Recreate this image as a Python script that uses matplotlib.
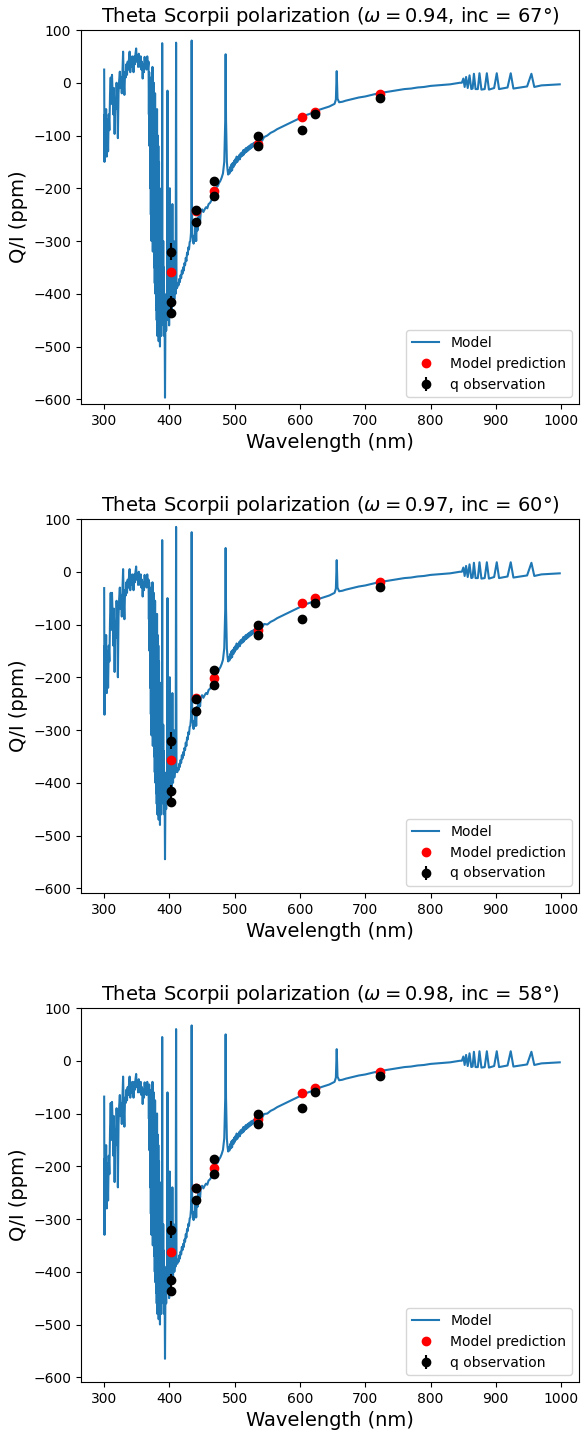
import matplotlib
matplotlib.use('Agg')
import matplotlib.pyplot as plt

# ---------------- observations / predictions ----------------
obs_wl = [403, 403, 403, 441, 441, 468, 468, 535, 535, 603, 623, 722]
obs_q = [-320, -416, -437, -241, -264, -186, -214, -100, -119, -90, -59, -28]
obs_err = [16, 12, 6, 5, 5, 5, 5, 5, 5, 5, 5, 5]

pred_wl = [403, 441, 468, 535, 603, 623, 722]
pred_q1 = [-359, -244, -206, -116, -65, -55, -21]
pred_q2 = [-357, -240, -202, -110, -60, -50, -20]
pred_q3 = [-362, -242, -204, -111, -62, -52, -21]

titles = [r'Theta Scorpii polarization ($\omega = 0.94$, inc = 67°)',
          r'Theta Scorpii polarization ($\omega = 0.97$, inc = 60°)',
          r'Theta Scorpii polarization ($\omega = 0.98$, inc = 58°)']

# ---------------- model spectrum: UV part (300-368 nm) ----------------
wl_uv = [300, 300.5, 301, 302, 303, 304, 305, 306, 307, 308,
         309, 310, 311, 312, 313, 314, 315, 316, 317, 318,
         319, 320, 321, 322, 323, 324, 325, 326, 327, 328,
         329, 330, 331, 332, 333, 334, 335, 336, 337, 338,
         339, 340, 341, 342, 343, 344, 345, 346, 347, 348,
         349, 350, 351, 352, 353, 354, 355, 356, 357, 358,
         359, 360, 361, 362, 363, 364, 365, 366, 367, 368]
q_uv1 = [25, -150, -60, -110, -50, -140, -70, -130, -60, -90,
         -20, 10, -40, 15, -20, -60, -10, -97, -30, -50,
         0, -30, -105, -20, 5, 21, -10, 10, -20, 20,
         59, 0, -23, 20, 10, 35, 15, 40, 25, 45,
         59, 20, 45, 30, 50, 40, 20, 50, 35, 55,
         65, 40, 50, 30, 55, 46, 30, 50, 25, 40,
         8, 35, 20, 49, 30, 45, 25, 50, 27, 40]
q_uv2 = [-31, -271, -140, -210, -120, -230, -150, -220, -140, -170,
         -90, -40, -110, -40, -85, -140, -70, -190, -95, -125,
         -55, -95, -200, -85, -50, -30, -70, -45, -85, -35,
         5, -55, -90, -35, -45, -20, -40, -15, -30, -10,
         5, -35, -10, -25, -5, -15, -35, -5, -20, 0,
         10, -15, -5, -25, 0, -10, -25, -5, -30, -15,
         -47, -20, -35, -6, -25, -10, -30, -5, -28, -15]
q_uv3 = [-68, -330, -185, -260, -160, -280, -195, -265, -180, -215,
         -130, -80, -150, -78, -120, -180, -105, -230, -130, -160,
         -90, -130, -240, -120, -85, -65, -105, -80, -120, -70,
         -30, -90, -125, -70, -80, -55, -75, -50, -65, -45,
         -30, -70, -45, -60, -40, -50, -70, -40, -55, -35,
         -25, -50, -40, -60, -35, -45, -60, -40, -65, -50,
         -82, -55, -70, -41, -60, -45, -65, -40, -63, -50]

# ---------------- model spectrum: Balmer-line forest (368-411 nm) ----------------
wl_bal = [368.5, 369, 369.5, 370, 370.5, 371, 371.5, 372, 372.5, 373,
          373.5, 374, 374.5, 375, 375.5, 376, 376.5, 377, 377.5, 378,
          378.5, 379, 379.5, 380, 380.5, 381, 381.5, 382, 382.5, 383,
          383.5, 384, 384.5, 385, 385.5, 386, 386.5, 387, 387.5, 388,
          388.5, 388.9, 389.3, 390, 390.5, 391, 391.5, 392, 392.5, 393.2,
          393.8, 394.5, 395, 395.5, 396.2, 397.0, 397.6, 398.5, 399.5, 400.5,
          401.5, 402.5, 403.5, 404.5, 405.5, 406.5, 407.5, 408.5, 409.5, 410.2,
          410.8]
q_bal1 = [-60, 20, -120, 10, -200, 0, -250, -20, -300, -10,
          -260, 30, -320, -30, -300, 0, -350, -40, -380, -20,
          -400, -60, -430, -80, -450, -50, -480, -100, -470, -120,
          -490, -150, -480, -200, -500, -250, -470, -300, -480, -250,
          -350, 75, -380, -420, -300, -460, -350, -480, -420, -597,
          -460, -420, -470, -400, -450, -15, -430, -250, -460, -200,
          -440, -280, -430, -230, -420, -300, -410, -370, -400, 76,
          -390]
q_bal2 = [-90, -20, -150, -30, -220, -40, -270, -50, -310, -45,
          -280, -20, -330, -60, -310, -40, -350, -70, -380, -55,
          -400, -90, -420, -100, -440, -80, -460, -120, -450, -140,
          -470, -170, -460, -210, -480, -250, -450, -290, -460, -250,
          -340, 60, -360, -400, -290, -440, -340, -460, -400, -545,
          -440, -400, -450, -380, -430, -50, -410, -250, -440, -200,
          -420, -280, -410, -230, -400, -300, -390, -370, -380, 85,
          -370]
q_bal3 = [-110, -45, -170, -55, -240, -60, -290, -70, -330, -65,
          -300, -40, -350, -80, -330, -60, -370, -90, -400, -75,
          -420, -110, -440, -120, -460, -100, -480, -140, -470, -160,
          -490, -190, -480, -230, -500, -270, -470, -310, -480, -270,
          -360, 45, -380, -420, -310, -460, -360, -480, -420, -565,
          -450, -410, -460, -390, -440, -60, -420, -260, -450, -210,
          -430, -290, -420, -240, -410, -310, -400, -380, -390, 60,
          -380]

# ---------------- model spectrum: 411-487 nm ----------------
wl_vis = [412, 413, 414, 415, 416, 417, 418, 419, 420, 421,
          422, 423, 424, 425, 426, 427, 428, 429, 430, 431,
          432, 433, 433.7, 434.05, 434.4, 435, 436, 437, 438, 439,
          440, 441, 442, 443, 444, 445, 446, 447, 448, 450,
          452, 454, 456, 458, 460, 462, 464, 466, 468, 470,
          472, 474, 476, 478, 480, 482, 484, 485.5, 486.1, 486.7]
q_vis1 = [-388, -380, -384, -372, -378, -365, -370, -356, -362, -350,
          -356, -342, -346, -332, -338, -322, -326, -312, -316, -302,
          -300, -285, -220, 80, -220, -285, -295, -305, -290, -300,
          -270, -300, -262, -280, -255, -268, -250, -262, -245, -240,
          -245, -240, -236, -238, -230, -228, -224, -218, -212, -205,
          -198, -196, -190, -186, -180, -172, -150, -70, 54, -70]
q_vis2 = [-380, -372, -376, -364, -370, -357, -362, -348, -354, -342,
          -348, -334, -338, -324, -330, -314, -318, -304, -308, -294,
          -292, -278, -215, 75, -215, -278, -288, -298, -283, -292,
          -264, -292, -256, -272, -249, -261, -244, -255, -239, -234,
          -239, -234, -230, -232, -224, -222, -218, -212, -206, -200,
          -193, -191, -185, -181, -175, -167, -145, -70, 45, -70]
q_vis3 = [-385, -377, -381, -369, -375, -362, -367, -353, -359, -347,
          -353, -339, -343, -329, -335, -319, -323, -309, -313, -299,
          -297, -282, -218, 67, -218, -282, -292, -302, -287, -297,
          -267, -297, -259, -277, -252, -265, -247, -259, -242, -237,
          -242, -237, -233, -235, -227, -225, -221, -215, -209, -202,
          -195, -193, -187, -183, -177, -169, -147, -70, 50, -70]

# ---------------- model spectrum: 488-545 nm ----------------
wl_mid = [488, 489, 490, 491, 492, 493, 494, 495, 496, 497,
          498, 499, 500, 501, 502, 503, 504, 505, 506, 507,
          508, 509, 510, 511, 512, 513, 514, 515, 516, 517,
          518, 519, 520, 521, 522, 523, 524, 525, 526, 527,
          528, 529, 530, 532, 534, 536, 538, 540, 542, 545]
q_mid1 = [-150, -165, -174, -166, -172, -160, -168, -155, -166, -152,
          -160, -148, -156, -145, -152, -140, -150, -141, -146, -137,
          -145, -134, -140, -132, -138, -128, -136, -127, -133, -124,
          -131, -123, -129, -121, -127, -119, -125, -117, -123, -116,
          -121, -114, -120, -112, -118, -110, -113, -106, -110, -103]
q_mid2 = [-146, -161, -170, -162, -168, -156, -164, -151, -162, -148,
          -156, -144, -152, -141, -148, -136, -146, -137, -142, -133,
          -141, -130, -136, -128, -134, -124, -132, -123, -129, -120,
          -127, -119, -125, -117, -123, -115, -121, -113, -119, -112,
          -117, -110, -116, -108, -114, -106, -109, -102, -106, -99]
q_mid3 = [-148, -163, -172, -164, -170, -158, -166, -153, -164, -150,
          -158, -146, -154, -143, -150, -138, -148, -139, -144, -135,
          -143, -132, -138, -130, -136, -126, -134, -125, -131, -122,
          -129, -121, -127, -119, -125, -117, -123, -115, -121, -114,
          -119, -112, -118, -110, -116, -108, -111, -104, -108, -101]

# ---------------- model spectrum: 550-1000 nm (same in all panels) ----------------
wl_tail = [550, 555, 560, 565, 570, 575, 580, 585, 590, 595,
           600, 605, 610, 615, 620, 625, 630, 635, 640, 645,
           650, 653, 655, 656.3, 657.5, 660, 665, 670, 680, 690,
           700, 710, 720, 730, 740, 750, 760, 770, 780, 790,
           800, 810, 820, 830, 840, 845, 848, 850.3, 852.3, 854.5,
           857, 859.8, 862.5, 864.5, 866.5, 869, 872.5, 875, 878, 883,
           886.3, 889.5, 897.5, 901.5, 905, 918, 922.9, 927, 948, 954.6,
           959, 970, 985, 998]
q_tail = [-100, -95, -92, -88, -85, -82, -79, -76, -73, -70,
          -67, -64, -61, -59, -56, -54, -51, -49, -47, -45,
          -42, -40, -32, 22, -30, -37, -36, -34, -31, -28,
          -26, -23, -20, -18, -16, -14, -12, -11, -9, -8,
          -6, -5, -4, -3, -1, 0, 0, 8, -8, 11,
          -10, 14, -12, -11, 17, -12, -12, 18, -13, -12,
          18, -13, -10, 18, -12, -9, 18, -11, -7, 17,
          -8, -5, -4, -3]

models = [(q_uv1, q_bal1, q_vis1, q_mid1, pred_q1),
          (q_uv2, q_bal2, q_vis2, q_mid2, pred_q2),
          (q_uv3, q_bal3, q_vis3, q_mid3, pred_q3)]

W, H = 584, 1435
fig = plt.figure(figsize=(W / 100, H / 100), dpi=100)
tops = [30, 519, 1008]
ax_h = 374
left_px, right_px = 81, 579

wl_all = wl_uv + wl_bal + wl_vis + wl_mid + wl_tail
for i, (quv, qbal, qvis, qmid, pq) in enumerate(models):
    top = tops[i]
    ax = fig.add_axes([left_px / W, 1 - (top + ax_h) / H,
                       (right_px - left_px) / W, ax_h / H])
    q_all = quv + qbal + qvis + qmid + q_tail
    ax.plot(wl_all, q_all, color='#1f77b4', lw=1.5, label='Model')
    ax.plot(pred_wl, pq, 'o', color='red', label='Model prediction')
    ax.errorbar(obs_wl, obs_q, yerr=obs_err, fmt='o', color='black',
                label='q observation')
    ax.set_xlim(264.5, 1027.5)
    ax.set_ylim(-609, 100)
    ax.set_xticks(range(300, 1001, 100))
    ax.set_yticks(range(-600, 101, 100))
    ax.set_title(titles[i], fontsize=14)
    ax.set_xlabel('Wavelength (nm)', fontsize=14)
    ax.set_ylabel('Q/I (ppm)', fontsize=14)
    ax.legend(loc='lower right', fontsize=10)

fig.savefig('out.png', dpi=100)
